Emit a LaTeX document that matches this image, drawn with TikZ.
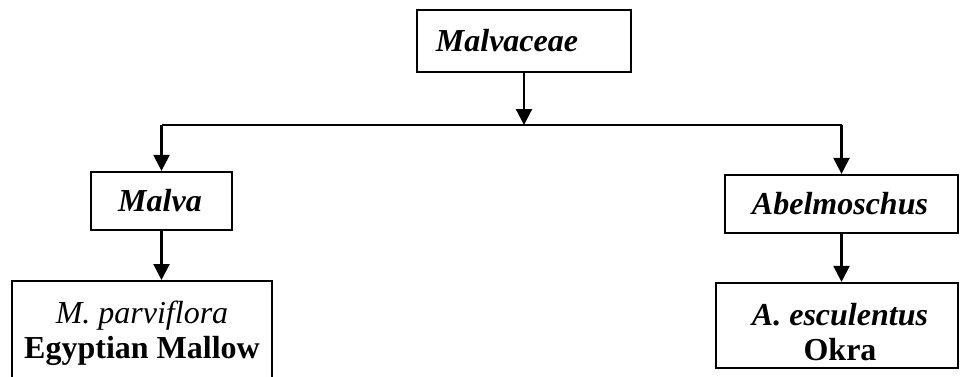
\documentclass[tikz,border=0pt]{standalone}
\usepackage{fontspec}
\setmainfont{Liberation Serif}
\usetikzlibrary{arrows.meta}
\begin{document}
\begin{tikzpicture}[x=1pt,y=-1pt,
  box/.style={draw=black, line width=2.2pt, inner sep=0pt},
  lbl/.style={inner sep=0pt, align=center, font=\fontsize{32}{35}\selectfont},
  conn/.style={line width=2.2pt},
  arr/.style={conn, -{Triangle[width=16pt,length=16pt]}}]
\useasboundingbox (0,0) rectangle (960,376);
\clip (0,0) rectangle (960,376);
\node[box, minimum width=214pt, minimum height=62pt] (fam) at (524,41) {};
\node[lbl] (famt) at (507,41) {\textbf{\textit{Malvaceae}}};
\node[box, minimum width=141pt, minimum height=58pt] (malva) at (161.5,201) {};
\node[lbl] (malvat) at (160,201) {\textbf{\textit{Malva}}};
\node[box, minimum width=233pt, minimum height=58pt] (abel) at (841.5,204) {};
\node[lbl] (abelt) at (840,204) {\textbf{\textit{Abelmoschus}}};
\node[box, minimum width=260pt, minimum height=104pt, anchor=north] (mpar) at (142,280) {};
\node[lbl] (mpart) at (142,333) {\textit{M. parviflora}\\\textbf{Egyptian Mallow}};
\node[box, minimum width=242pt, minimum height=85pt] (aesc) at (837,325.5) {};
\begin{scope}
\clip (716,283) rectangle (958,361);
\node[lbl] (aesct) at (840,332) {\textbf{\textit{A. esculentus}}\\\textbf{Okra}};
\end{scope}
\coordinate (hm) at (524,125);
\coordinate (hl) at (161.5,125);
\coordinate (hr) at (841.5,125);
\draw[arr] (fam.south) -- (hm);
\draw[conn] (hl) -- (hr);
\draw[arr] (hl) -- (malva.north);
\draw[arr] (hr) -- (abel.north);
\draw[arr] (malva.south) -- (malva.south |- mpar.north);
\draw[arr] (abel.south) -- (abel.south |- aesc.north);
\end{tikzpicture}
\end{document}
